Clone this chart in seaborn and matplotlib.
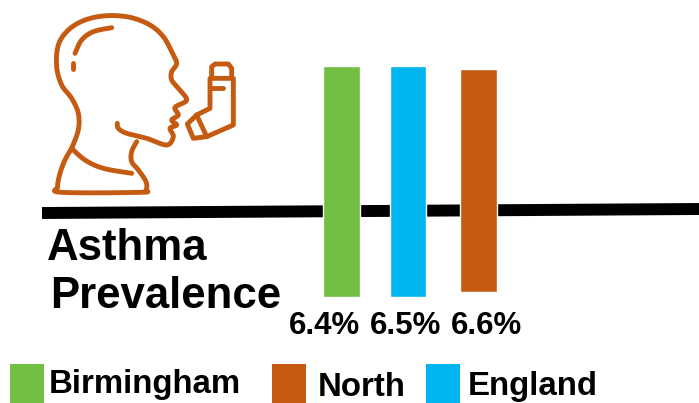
import matplotlib
matplotlib.use('Agg')
import matplotlib.pyplot as plt
from matplotlib.patches import Rectangle
import numpy as np
import pandas as pd
import seaborn as sns

W, H = 699, 403

regions = ['Birmingham', 'England', 'North']
bar_labels = ['6.4%', '6.5%', '6.6%']
# bar lengths as drawn in the picture, they do not follow the labels
bar_lengths = [231, 231, 223]
legend_order = ['Birmingham', 'North', 'England']
colors = {'Birmingham': '#72BF44', 'England': '#00B4F0', 'North': '#C55A11'}

BROWN = colors['North']

# icon outlines (zoom crop coordinates, 3x, offset 30,0)
head = [(125, 445), (145, 390), (145, 340), (125, 295), (95, 255), (80, 200), (85, 135), (115, 90),
        (165, 60), (230, 47), (300, 52), (360, 75), (400, 110), (425, 155), (440, 190), (425, 215),
        (425, 240), (445, 265), (470, 300), (435, 322), (445, 345), (425, 360), (440, 375), (420, 385),
        (430, 410), (410, 435), (350, 415), (290, 400), (265, 385), (262, 370)]
hair = [(135, 160), (155, 120), (190, 95), (245, 83)]
neck = [(320, 425), (305, 455), (305, 485), (325, 510), (348, 545), (348, 570), (330, 577), (95, 577),
        (83, 560), (90, 520), (105, 480), (125, 445)]
collar = [(125, 445), (165, 480), (220, 505), (305, 520)]
curved_parts = [head, hair, neck, collar]

dot = [(130, 190), (130, 207)]
body = [(500, 345), (540, 325), (540, 235), (610, 235), (610, 375), (530, 410)]
canister = [(545, 232), (545, 200), (555, 192), (595, 192), (605, 205), (605, 232)]
slot = [(545, 265), (580, 265)]
mouth = [(500, 345), (472, 372), (490, 415), (530, 410), (500, 345)]
straight_parts = [dot, body, canister, slot, mouth]


def smooth(pts, n=8):
    # catmull-rom through the traced points so the outline is not angular
    p = np.array(pts, dtype=float)
    p = np.vstack([p[0], p, p[-1]])
    t = np.linspace(0, 1, n, endpoint=False)[:, None]
    out = []
    for i in range(1, len(p) - 2):
        a, b, c, d = p[i - 1], p[i], p[i + 1], p[i + 2]
        out.append(0.5 * (2 * b + (c - a) * t + (2 * a - 5 * b + 4 * c - d) * t ** 2
                          + (3 * b - a - 3 * c + d) * t ** 3))
    out.append(p[-2][None, :])
    return np.vstack(out)


sns.set_theme(style='white')
plt.rcParams['font.family'] = ['Liberation Sans', 'DejaVu Sans']

fig = plt.figure(figsize=(W / 100, H / 100), dpi=100)
ax = fig.add_axes([0, 0, 1, 1])

# thick rule goes under the bars
ax.plot([42, 699], [H - 213, H - 209], color='black', lw=8.6, solid_capstyle='butt', zorder=1)

df = pd.DataFrame({'region': regions, 'length': bar_lengths, 'pos': [341.5, 408, 478.5]})
sns.barplot(data=df, x='pos', y='length', hue='region', palette=colors, native_scale=True,
            width=0.55, dodge=False, legend=False, saturation=1, ax=ax, zorder=2)

# bars float, they are not on a common baseline
for patch, base in zip(ax.patches, [H - 297, H - 297, H - 292]):
    patch.set_y(base)

for part in curved_parts:
    p = smooth(part)
    ax.plot(30 + p[:, 0] / 3, H - p[:, 1] / 3, color=BROWN, lw=3.5, solid_capstyle='round',
            solid_joinstyle='round', zorder=3)
for part in straight_parts:
    p = np.array(part, dtype=float)
    ax.plot(30 + p[:, 0] / 3, H - p[:, 1] / 3, color=BROWN, lw=3.5, solid_capstyle='round',
            solid_joinstyle='round', zorder=3)

ax.text(47, H - 248, 'Asthma', fontsize=31.5, fontweight='bold', va='center', ha='left', color='black')
ax.text(50, H - 297, 'Prevalence', fontsize=31.5, fontweight='bold', va='center', ha='left', color='black')

for x, label in zip([324, 406, 487], bar_labels):
    ax.text(x, H - 326, label, fontsize=22.5, fontweight='bold', va='center', ha='center', color='black')

legend_box_x = [10, 272, 426]
legend_text_x = [49, 318, 468]
legend_text_y = [385, 387, 387]
for name, bx, tx, ty in zip(legend_order, legend_box_x, legend_text_x, legend_text_y):
    ax.add_patch(Rectangle((bx, 0), 34, H - 364, color=colors[name], lw=0, zorder=2))
    ax.text(tx, H - ty, name, fontsize=23.8, fontweight='bold', va='center', ha='left', color='black')

ax.set_xlim(0, W)
ax.set_ylim(0, H)
ax.axis('off')
fig.savefig('out.png', dpi=100)
